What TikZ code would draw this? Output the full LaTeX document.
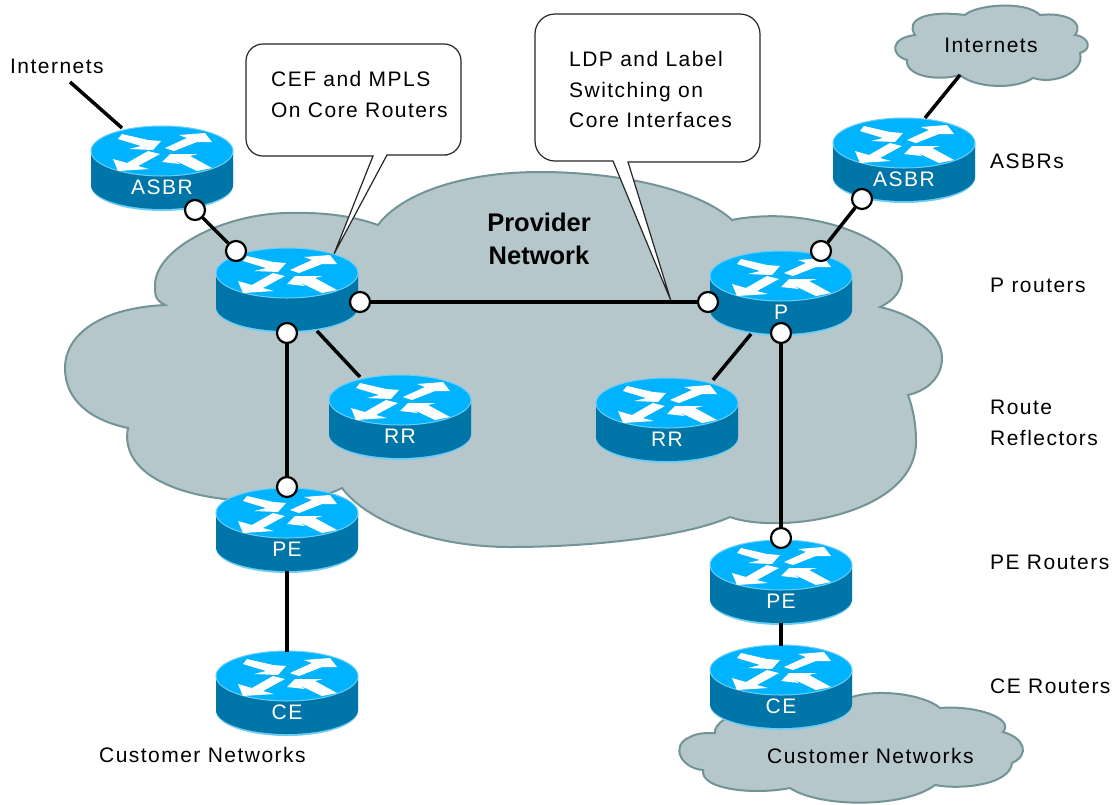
\documentclass[tikz,border=0pt]{standalone}
\usepackage{fontspec}
\setmainfont{Liberation Sans}[LetterSpace=7]
\usetikzlibrary{positioning}
\definecolor{cloudfill}{RGB}{181,199,202}
\definecolor{cloudline}{RGB}{115,148,150}
\definecolor{routertop}{RGB}{0,179,255}
\definecolor{routerside}{RGB}{0,117,168}
\definecolor{routerrim}{RGB}{110,205,245}
\tikzset{%
    cloud area/.style={fill=cloudfill,draw=cloudline,line width=2pt},%
    link/.style={draw,line width=3.5pt},%
    port/.style={circle,draw,fill=white,line width=2.2pt,minimum size=20pt,inner sep=0pt},%
    speech/.style={draw=black!85,fill=white,line width=1.2pt},%
    caption/.style={anchor=west,inner sep=0pt,align=left,font=\fontsize{21}{30.5}\selectfont},%
    routername/.style={text=white,inner sep=0pt,font=\fontsize{21}{25}\selectfont}%
}
% #1 name, #2/#3 centre of the top face, #4 label
\newcommand*\router[4]{%
    \begin{scope}[shift={(#2,#3)}]%
        \fill[routerrim] (-71,0) -- (-71,35) arc[x radius=71,y radius=25,start angle=180,end angle=0] -- (71,0) -- cycle;% rim
        \fill[routerside] (-71,0) -- (-71,34) arc[x radius=71,y radius=24,start angle=180,end angle=0] -- (71,0) -- cycle;% body
        \draw[routerrim,fill=routertop,line width=1pt] (0,0) ellipse[x radius=71,y radius=25];% top
        \fill[white] (-40,-17) -- (-14,-11) -- (-1,-10) -- (-9,-1) -- (-33,-2) -- (-21,-5) -- (-44,-12) -- cycle;% in
        \fill[white] (3,-3) -- (25,-13) -- (17,-16) -- (43,-18) -- (50,-9) -- (35,-9) -- (12,0) -- cycle;% out
        \fill[white] (-49,8) -- (-44,20) -- (-13,18) -- (-24,15) -- (-2,3) -- (-14,0) -- (-35,12) -- cycle;% out
        \fill[white] (0,11) -- (8,3) -- (36,3) -- (28,5) -- (50,17) -- (35,20) -- (12,9) -- (18,13) -- cycle;% in
        \node[routername] (#1) at (0,36) {#4};%
        % router attachment points
        \foreach \side/\x/\y in {%
            -nw/-40/-23,%
            -ne/46/-23,%
            -top/21/-25,%
            -up/0/-24,%
            -sw/-30/58,%
            -se/30/58,%
            -bot/0/58%
        }{%
            \coordinate (#1\side) at (\x,\y);%
        }%
    \end{scope}%
}
\begin{document}
\begin{tikzpicture}[x=1pt,y=-1pt]
    \useasboundingbox (0,0) rectangle (1116,804);
    % clouds
    \draw[cloud area] (165,305) .. controls (100,308) and (65,335) .. (65,368)
        .. controls (65,400) and (90,420) .. (128,428)
        .. controls (120,470) and (170,495) .. (235,500)
        .. controls (275,503) and (320,500) .. (342,488)
        .. controls (370,525) and (440,547) .. (510,547)
        .. controls (600,547) and (690,535) .. (730,517)
        .. controls (780,535) and (918,515) .. (916,440)
        .. controls (916,425) and (913,408) .. (908,395)
        .. controls (930,390) and (942,375) .. (942,358)
        .. controls (942,335) and (915,315) .. (880,307)
        .. controls (895,300) and (902,290) .. (902,277)
        .. controls (902,250) and (850,222) .. (790,217)
        .. controls (770,215) and (745,217) .. (732,220)
        .. controls (700,190) and (620,172) .. (540,172)
        .. controls (460,172) and (400,195) .. (378,225)
        .. controls (350,215) and (320,212) .. (285,213)
        .. controls (220,215) and (155,250) .. (155,285)
        .. controls (155,295) and (155,300) .. (165,305) -- cycle;
    \draw[cloud area] (915,35) .. controls (905,20) and (925,10) .. (965,15)
        .. controls (975,5) and (1025,0) .. (1040,15)
        .. controls (1065,12) and (1085,22) .. (1075,35)
        .. controls (1090,37) and (1092,50) .. (1080,53)
        .. controls (1085,72) and (1055,85) .. (1033,78)
        .. controls (1015,90) and (975,88) .. (960,75)
        .. controls (935,82) and (905,75) .. (907,60)
        .. controls (890,55) and (890,38) .. (915,35) -- cycle;
    \draw[cloud area] (715,733) .. controls (712,715) and (780,690) .. (852,697)
        .. controls (880,688) and (925,695) .. (940,708)
        .. controls (975,705) and (1015,718) .. (1003,732)
        .. controls (1025,738) and (1030,755) .. (1012,763)
        .. controls (1010,785) and (960,790) .. (935,785)
        .. controls (905,808) and (820,808) .. (790,788)
        .. controls (755,795) and (700,790) .. (703,770)
        .. controls (680,768) and (670,745) .. (690,737)
        .. controls (697,733) and (705,733) .. (715,733) -- cycle;
    % free ends of the lines and of the speech tails
    \coordinate (web-left) at (70,82);
    \coordinate (web-right) at (960,75);
    \coordinate (cef-tip) at (334,254);
    \coordinate (ldp-tip) at (671,301);
    % speech boxes
    \draw[speech] (373,156) [rounded corners=17pt] -- (246,156) -- (246,44) -- (461,44) -- (461,155) -- (430,155) [sharp corners] -- (387,155) -- (cef-tip) -- cycle;
    \draw[speech] (613,161) [rounded corners=20pt] -- (535,161) -- (535,14) -- (760,14) -- (760,162) -- (720,162) [sharp corners] -- (628,162) -- (ldp-tip) -- cycle;
    % routers
    \router{asbrleft}{162}{151}{ASBR}
    \router{coreleft}{287}{273}{}
    \router{rrleft}{400}{400}{RR}
    \router{peleft}{287}{513}{PE}
    \router{celeft}{287}{676}{CE}
    \router{asbrright}{904}{143}{ASBR}
    \router{coreright}{781}{276}{P}
    \router{rrright}{667}{403}{RR}
    \router{peright}{781}{565}{PE}
    \router{ceright}{781}{670}{CE}
    % router ports
    \node[port] (p-asbrleft) at (195,210) {};
    \node[port] (p-coreleft-n) at (236,251) {};
    \node[port] (p-coreleft-e) at (360,302) {};
    \node[port] (p-coreleft-s) at (287,333) {};
    \node[port] (p-peleft) at (287,487) {};
    \node[port] (p-coreright-w) at (708,302) {};
    \node[port] (p-coreright-n) at (821,251) {};
    \node[port] (p-asbrright) at (862,199) {};
    \node[port] (p-coreright-s) at (781,333) {};
    \node[port] (p-peright) at (781,538) {};
    % links
    \draw[link] (web-left) -- (asbrleft-nw);
    \draw[link] (web-right) -- (asbrright-top);
    \draw[link] (p-asbrleft) -- (p-coreleft-n);
    \draw[link] (p-asbrright) -- (p-coreright-n);
    \draw[link] (p-coreleft-e) -- (p-coreright-w);
    \draw[link] (p-coreleft-s) -- (p-peleft);
    \draw[link] (p-coreright-s) -- (p-peright);
    \draw[link] (coreleft-se) -- (rrleft-nw);
    \draw[link] (coreright-sw) -- (rrright-ne);
    \draw[link] (peleft-bot) -- (celeft-up);
    \draw[link] (peright-bot) -- (ceright-up);
    % labels
    \node[caption] (ceftext) at (271,94.5) {CEF and MPLS\\On Core Routers};
    \node[caption] (ldptext) at (569,89.5) {LDP and Label\\Switching on\\Core Interfaces};
    \node[caption,align=center,anchor=center,font=\fontsize{25.5}{33}\selectfont\bfseries\addfontfeatures{LetterSpace=0}] (provider) at (539,239) {Provider\\Network};
    \node[caption] (webleft) at (10,66) {Internets};
    \node[caption,anchor=center] (webright) at (991,45) {Internets};
    \node[caption] (asbrs) at (990,161) {ASBRs};
    \node[caption] (prouters) at (990,285) {P routers};
    \node[caption] (reflectors) at (990,423) {Route\\Reflectors};
    \node[caption] (perouters) at (990,562) {PE Routers};
    \node[caption] (cerouters) at (990,686) {CE Routers};
    \node[caption] (custleft) at (99,755) {Customer Networks};
    \node[caption] (custright) at (767,756) {Customer Networks};
\end{tikzpicture}
\end{document}
